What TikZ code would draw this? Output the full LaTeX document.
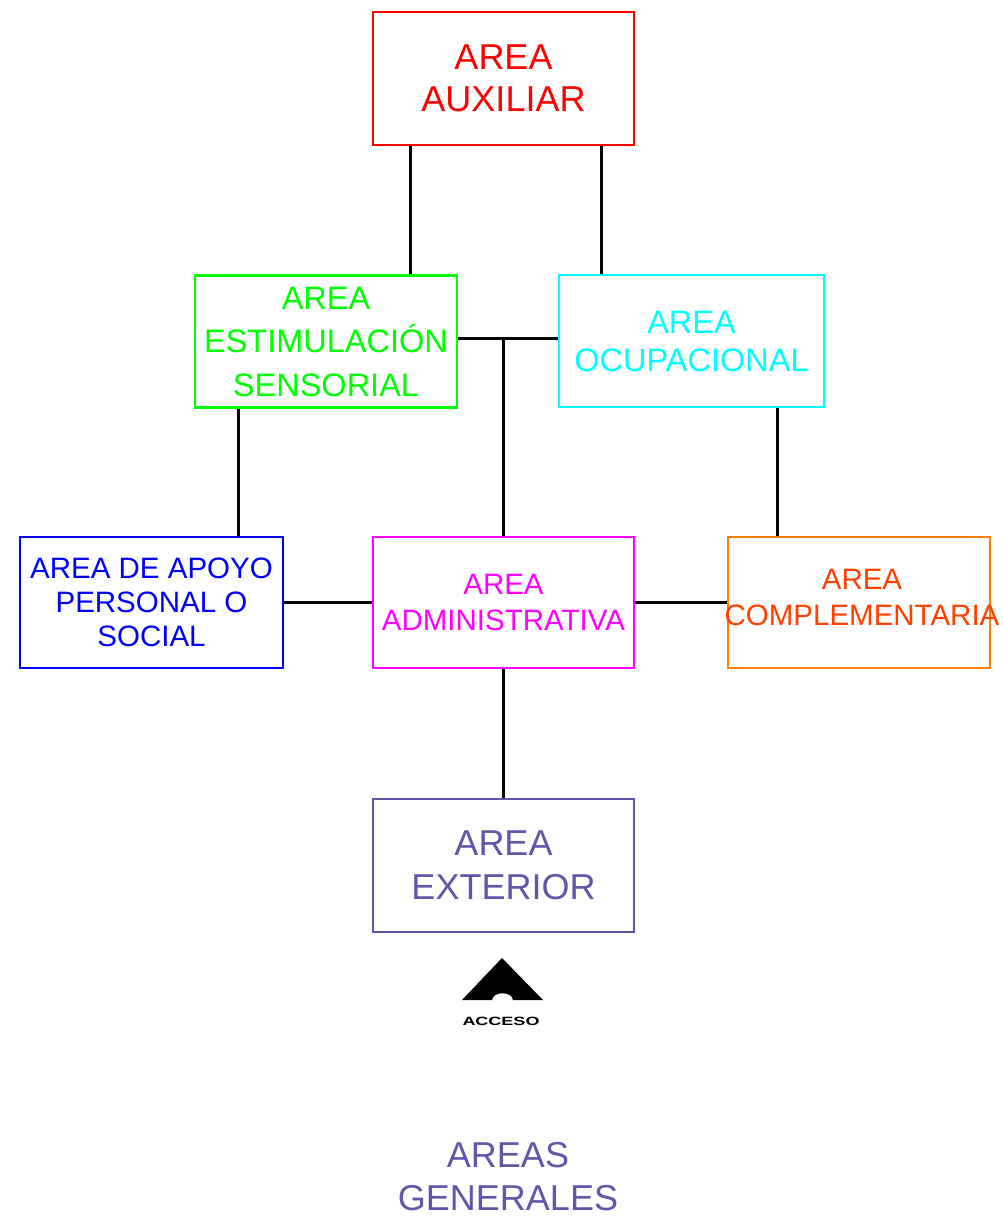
\documentclass[tikz,border=0pt]{standalone}
\usepackage{fontspec}
\setmainfont{Liberation Sans}
\usetikzlibrary{calc}
\definecolor{cred}{RGB}{255,0,0}
\definecolor{cgreen}{RGB}{0,255,0}
\definecolor{ccyan}{RGB}{0,255,255}
\definecolor{cblue}{RGB}{0,0,255}
\definecolor{cmag}{RGB}{255,0,255}
\definecolor{corange}{RGB}{255,128,0}
\definecolor{corangetxt}{RGB}{255,64,0}
\definecolor{cpurple}{RGB}{100,85,170}
\tikzset{
  area/.style={draw, line width=2.8pt, inner sep=0pt, align=center, fill=white},
  conn/.style={line width=2.8pt, black},
}
\begin{document}
\begin{tikzpicture}[x=1pt,y=-1pt]
\useasboundingbox (0,0) rectangle (1003,1220);
% boxes
\node[area, draw=cred, text=cred, minimum width=261pt, minimum height=133pt,
      font=\fontsize{36}{42}\selectfont] (aux) at (503.5,78.5) {AREA\\AUXILIAR};
\node[area, draw=cgreen, text=cgreen, minimum width=262pt, minimum height=132pt,
      font=\fontsize{32.5}{43.5}\selectfont] (est) at (326,341.5) {AREA\\ESTIMULACIÓN\\SENSORIAL};
\node[area, draw=ccyan, text=ccyan, minimum width=265pt, minimum height=132pt,
      font=\fontsize{32.5}{38}\selectfont] (ocu) at (691.5,341) {AREA\\OCUPACIONAL};
\node[area, draw=cblue, text=cblue, minimum width=263pt, minimum height=131pt,
      font=\fontsize{29.5}{34}\selectfont] (apo) at (151.5,602.5) {AREA DE APOYO\\PERSONAL O\\SOCIAL};
\node[area, draw=cmag, text=cmag, minimum width=261pt, minimum height=131pt,
      font=\fontsize{29.5}{36}\selectfont] (adm) at (503.5,602.5) {AREA\\ADMINISTRATIVA};
\node[area, draw=corange, minimum width=262pt, minimum height=131pt] (com) at (859,602.5) {};
\node[text=corangetxt, align=center, inner sep=0pt,
      font=\fontsize{29.5}{36}\selectfont] (comtxt) at (862,597) {AREA\\COMPLEMENTARIA};
\node[area, draw=cpurple, text=cpurple, minimum width=261pt, minimum height=133pt,
      font=\fontsize{36}{44}\selectfont] (ext) at (503.5,865.5) {AREA\\EXTERIOR};
% connectors
\coordinate (c1) at ([xshift=39pt]aux.south west);
\coordinate (c2) at ([xshift=230pt]aux.south west);
\coordinate (c3) at ([xshift=45pt]est.south west);
\coordinate (c4) at ([xshift=220pt]ocu.south west);
\coordinate (h1) at ([yshift=3pt]est.east);
\draw[conn] (c1) -- (c1 |- est.north);
\draw[conn] (c2) -- (c2 |- ocu.north);
\draw[conn] (h1) -- (h1 -| ocu.west);
\draw[conn] (adm.north |- h1) -- (adm.north);
\draw[conn] (c3) -- (c3 |- apo.north);
\draw[conn] (c4) -- (c4 |- com.north);
\draw[conn] (apo.east) -- (adm.west);
\draw[conn] (adm.east) -- (com.west);
\draw[conn] (adm.south) -- (ext.north);
% access arrow
\fill[black] (462,1000) -- (502,958) -- (543,1000) -- (513,1000)
  .. controls (512,991) and (493,991) .. (492,1000) -- cycle;
\node[inner sep=0pt, font=\bfseries\fontsize{12}{12}\selectfont] (acc) at (501,1021) {\scalebox{1.5}[1]{ACCESO}};
% title
\node[text=cpurple, align=center, inner sep=0pt, font=\fontsize{36}{43}\selectfont] (title) at (508,1176.5) {AREAS\\GENERALES};
\end{tikzpicture}
\end{document}
